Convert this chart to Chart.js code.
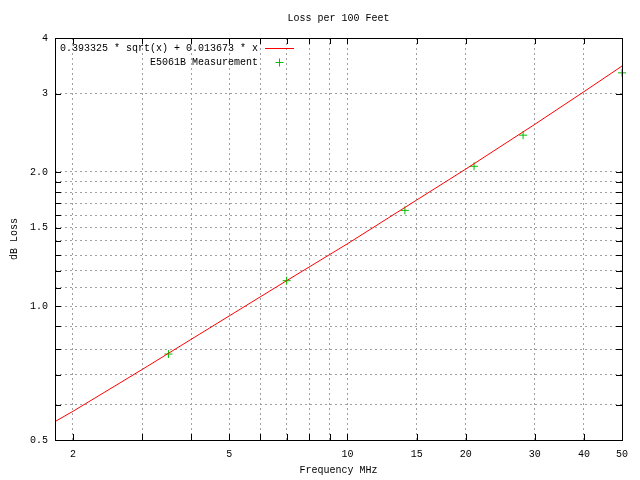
<!DOCTYPE html>
<html>
<head>
<meta charset="utf-8">
<script src="https://cdn.jsdelivr.net/npm/chart.js@4.4.1/dist/chart.umd.min.js"></script>
<style>
  html, body { margin: 0; padding: 0; background: #fff; }
  #wrap { width: 640px; height: 480px; }
</style>
</head>
<body>
<div id="wrap"><canvas id="lossChart" width="640" height="480"></canvas></div>
<script>
// measured points (MHz, dB per 100 ft)
const freqMHz = [3.5, 7, 14, 21, 28, 50];
const measuredLoss = [0.78, 1.14, 1.64, 2.06, 2.42, 3.34];

// fitted curve
const fitFreq = [1.8, 2, 3, 5, 7, 10, 15, 20, 30, 40, 50];
const fitLoss = [0.55, 0.58, 0.72, 0.95, 1.14, 1.38, 1.73, 2.03, 2.56, 3.03, 3.46];

// grid / tick positions and the ones that get a label
const xTicks = [2, 3, 4, 5, 6, 7, 8, 9, 10, 15, 20, 30, 40, 50];
const xLabels = { 2: '2', 5: '5', 10: '10', 15: '15', 20: '20', 30: '30', 40: '40', 50: '50' };
const yTicks = [0.5, 0.6, 0.7, 0.8, 0.9, 1.0, 1.1, 1.2, 1.3, 1.4, 1.5, 1.6, 1.7, 1.8, 1.9, 2.0, 3, 4];
const yLabels = { 0.5: '0.5', 1: '1.0', 1.5: '1.5', 2: '2.0', 3: '3', 4: '4' };

const fitLabel = '0.393325 * sqrt(x) + 0.013673 * x';
const measLabel = 'E5061B Measurement';

const FONT = "'Liberation Mono', 'DejaVu Sans Mono', monospace";
const RED = '#ff0000';
const GREEN = '#00c000';

// frame, inward mirror ticks and gnuplot-style key
const gnuplotFrame = {
  id: 'gnuplotFrame',
  afterDatasetsDraw(chart) {
    const ctx = chart.ctx;
    const a = chart.chartArea;
    const xs = chart.scales.x, ys = chart.scales.y;
    ctx.save();
    ctx.strokeStyle = '#000';
    ctx.lineWidth = 1;
    ctx.beginPath();
    xTicks.forEach(v => {
      const px = Math.round(xs.getPixelForValue(v)) + 0.5;
      ctx.moveTo(px, a.bottom); ctx.lineTo(px, a.bottom - 6);
      ctx.moveTo(px, a.top); ctx.lineTo(px, a.top + 6);
    });
    yTicks.forEach(v => {
      const py = Math.round(ys.getPixelForValue(v)) + 0.5;
      ctx.moveTo(a.left, py); ctx.lineTo(a.left + 6, py);
      ctx.moveTo(a.right, py); ctx.lineTo(a.right - 6, py);
    });
    ctx.stroke();
    ctx.strokeRect(Math.round(a.left) + 0.5, Math.round(a.top) + 0.5,
      Math.round(a.right - a.left), Math.round(a.bottom - a.top));

    // key
    const kx = a.left + 203, ky = a.top + 10;
    ctx.font = '10px ' + FONT;
    ctx.fillStyle = '#000';
    ctx.textAlign = 'right';
    ctx.textBaseline = 'middle';
    ctx.fillText(chart.data.datasets[0].label, kx, ky);
    ctx.fillText(chart.data.datasets[1].label, kx, ky + 14);
    ctx.strokeStyle = chart.data.datasets[0].borderColor;
    ctx.beginPath();
    ctx.moveTo(kx + 7, ky + 0.5); ctx.lineTo(kx + 36, ky + 0.5);
    ctx.stroke();
    ctx.strokeStyle = chart.data.datasets[1].borderColor;
    const cx = kx + 21.5, cy = ky + 14.5;
    ctx.beginPath();
    ctx.moveTo(cx - 4, cy); ctx.lineTo(cx + 4, cy);
    ctx.moveTo(cx, cy - 4); ctx.lineTo(cx, cy + 4);
    ctx.stroke();
    ctx.restore();
  }
};

const ctx = document.getElementById('lossChart').getContext('2d');

const lossChart = new Chart(ctx, {
  type: 'line',
  data: {
    datasets: [{
      label: fitLabel,
      data: fitFreq.map((f, i) => ({ x: f, y: fitLoss[i] })),
      borderColor: RED,
      borderWidth: 1,
      pointRadius: 0,
      tension: 0,
      fill: false
    }, {
      label: measLabel,
      data: freqMHz.map((f, i) => ({ x: f, y: measuredLoss[i] })),
      showLine: false,
      borderColor: GREEN,
      backgroundColor: GREEN,
      pointStyle: 'cross',
      pointRadius: 4,
      pointBorderWidth: 1,
      clip: false
    }]
  },
  options: {
    responsive: false,
    animation: false,
    layout: { padding: { right: 18 } },
    scales: {
      x: {
        type: 'logarithmic',
        min: 1.8,
        max: 50,
        afterBuildTicks: s => { s.ticks = xTicks.map(v => ({ value: v })); },
        afterFit: s => { s.height = 40; },
        ticks: {
          autoSkip: false,
          maxRotation: 0,
          padding: 8,
          color: '#000',
          font: { family: FONT, size: 10 },
          callback: v => xLabels[v] || ''
        },
        grid: { color: '#a0a0a0', drawTicks: false },
        border: { display: false, dash: [2, 3] },
        title: {
          display: true,
          text: 'Frequency MHz',
          color: '#000',
          font: { family: FONT, size: 10 },
          padding: { top: 0, bottom: 4 }
        }
      },
      y: {
        type: 'logarithmic',
        min: 0.5,
        max: 4,
        afterBuildTicks: s => { s.ticks = yTicks.map(v => ({ value: v })); },
        afterFit: s => { s.width = 55; },
        ticks: {
          autoSkip: false,
          padding: 7,
          color: '#000',
          font: { family: FONT, size: 10 },
          callback: v => yLabels[Math.round(v * 10) / 10] || ''
        },
        grid: { color: '#a0a0a0', drawTicks: false },
        border: { display: false, dash: [2, 3] },
        title: {
          display: true,
          text: 'dB Loss',
          color: '#000',
          font: { family: FONT, size: 10 },
          padding: { top: 8.5, bottom: 0 }
        }
      }
    },
    plugins: {
      legend: { display: false },
      tooltip: { enabled: false },
      title: {
        display: true,
        text: 'Loss per 100 Feet',
        fullSize: false,
        color: '#000',
        font: { family: FONT, size: 10, weight: 'normal' },
        padding: { top: 12, bottom: 14 }
      }
    }
  },
  plugins: [gnuplotFrame]
});
</script>
</body>
</html>
